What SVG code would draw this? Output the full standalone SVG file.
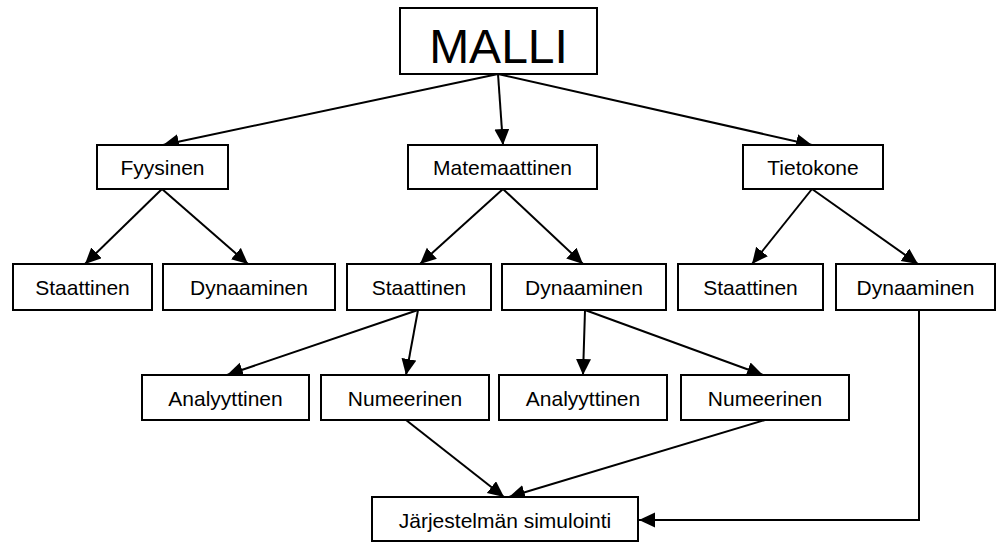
<svg xmlns="http://www.w3.org/2000/svg" width="998" height="542" viewBox="0 0 998 542">
<defs>
<marker id="ah" markerUnits="userSpaceOnUse" markerWidth="18" markerHeight="16" refX="16" refY="7.5" orient="auto">
<path d="M0,0 L16,7.5 L0,15 z" fill="#000"/>
</marker>
<style>
rect{fill:#fff;stroke:#000;stroke-width:2}
text{font-family:"Liberation Sans",Arial,sans-serif;font-size:21px;text-anchor:middle;fill:#000}
.c line,.c polyline{stroke:#000;stroke-width:2;fill:none;marker-end:url(#ah)}
</style>
</defs>
<rect x="0" y="0" width="998" height="542" style="fill:#fff;stroke:none"/>
<g class="c" id="connectors">
<line x1="498" y1="74" x2="163" y2="145"/>
<line x1="498" y1="74" x2="503" y2="145"/>
<line x1="498" y1="74" x2="812" y2="145"/>
<line x1="162" y1="189" x2="85" y2="264"/>
<line x1="162" y1="189" x2="248" y2="264"/>
<line x1="503" y1="189" x2="420" y2="264"/>
<line x1="503" y1="189" x2="583" y2="264"/>
<line x1="812" y1="189" x2="752" y2="264"/>
<line x1="812" y1="189" x2="918" y2="264"/>
<line x1="418" y1="310" x2="227" y2="375"/>
<line x1="418" y1="310" x2="406" y2="375"/>
<line x1="585" y1="310" x2="583" y2="375"/>
<line x1="585" y1="310" x2="763" y2="375"/>
<line x1="406" y1="420" x2="504" y2="497"/>
<line x1="765" y1="420" x2="509" y2="497"/>
<polyline points="919,310 919,520 639,520"/>
</g>
<g id="malli"><rect x="400" y="8" width="197" height="66"/><text x="498.5" y="63" style="font-size:48px">MALLI</text></g>
<g id="fyysinen"><rect x="97" y="145" width="131" height="44"/><text x="162.5" y="175">Fyysinen</text></g>
<g id="matemaattinen"><rect x="408" y="145" width="189" height="44"/><text x="502.5" y="175">Matemaattinen</text></g>
<g id="tietokone"><rect x="743" y="145" width="140" height="44"/><text x="813" y="175">Tietokone</text></g>
<g id="f-staattinen"><rect x="13" y="264" width="139" height="46"/><text x="82.5" y="295">Staattinen</text></g>
<g id="f-dynaaminen"><rect x="163" y="264" width="172" height="46"/><text x="249" y="295">Dynaaminen</text></g>
<g id="m-staattinen"><rect x="347" y="264" width="144" height="46"/><text x="419" y="295">Staattinen</text></g>
<g id="m-dynaaminen"><rect x="502" y="264" width="164" height="46"/><text x="584" y="295">Dynaaminen</text></g>
<g id="t-staattinen"><rect x="678" y="264" width="145" height="46"/><text x="750.5" y="295">Staattinen</text></g>
<g id="t-dynaaminen"><rect x="836" y="264" width="159" height="46"/><text x="915.5" y="295">Dynaaminen</text></g>
<g id="s-analyyttinen"><rect x="142" y="375" width="167" height="45"/><text x="225.5" y="406">Analyyttinen</text></g>
<g id="s-numeerinen"><rect x="321" y="375" width="168" height="45"/><text x="405" y="406">Numeerinen</text></g>
<g id="d-analyyttinen"><rect x="499" y="375" width="168" height="45"/><text x="583" y="406">Analyyttinen</text></g>
<g id="d-numeerinen"><rect x="681" y="375" width="168" height="45"/><text x="765" y="406">Numeerinen</text></g>
<g id="simulointi"><rect x="372" y="497" width="266" height="44"/><text x="505" y="528">Järjestelmän simulointi</text></g>
</svg>
